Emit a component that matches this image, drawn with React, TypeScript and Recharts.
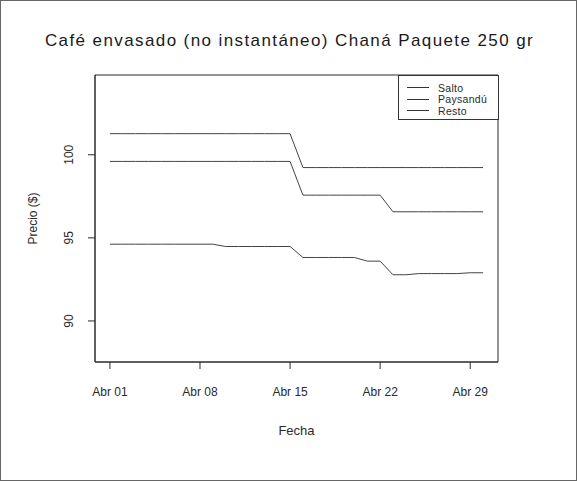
import React from 'react';
import { LineChart, Line, XAxis, YAxis, ReferenceArea } from 'recharts';

const days = [1, 2, 3, 4, 5, 6, 7, 8, 9, 10, 11, 12, 13, 14, 15, 16, 17, 18, 19, 20, 21, 22, 23, 24, 25, 26, 27, 28, 29, 30];
const salto = [101.27, 101.27, 101.27, 101.27, 101.27, 101.27, 101.27, 101.27, 101.27, 101.27, 101.27, 101.27, 101.27, 101.27, 101.27,
  99.23, 99.23, 99.23, 99.23, 99.23, 99.23, 99.23, 99.23, 99.23, 99.23, 99.23, 99.23, 99.23, 99.23, 99.23];
const paysandu = [99.6, 99.6, 99.6, 99.6, 99.6, 99.6, 99.6, 99.6, 99.6, 99.6, 99.6, 99.6, 99.6, 99.6, 99.6,
  97.57, 97.57, 97.57, 97.57, 97.57, 97.57, 97.57, 96.57, 96.57, 96.57, 96.57, 96.57, 96.57, 96.57, 96.57];
const resto = [94.62, 94.62, 94.62, 94.62, 94.62, 94.62, 94.62, 94.62, 94.62, 94.48, 94.48, 94.48, 94.48, 94.48, 94.48,
  93.82, 93.82, 93.82, 93.82, 93.82, 93.6, 93.6, 92.78, 92.78, 92.85, 92.85, 92.85, 92.85, 92.9, 92.9];

const xTicks = [1, 8, 15, 22, 29];
const xTickLabels = ['Abr 01', 'Abr 08', 'Abr 15', 'Abr 22', 'Abr 29'];
const yTicks = [90, 95, 100];
const seriesNames = ['Salto', 'Paysandú', 'Resto'];

const xDomain: [number, number] = [-0.16, 31.16];
const yDomain: [number, number] = [87.53, 104.8];

const font = '"Liberation Sans", Arial, sans-serif';
const ink = '#2a2a2a';

const data = days.map((d, i) => ({ day: d, salto: salto[i], paysandu: paysandu[i], resto: resto[i] }));

const YTick = (props: any) => {
  const { x, y, payload } = props;
  const bx = x - 15;
  return (
    <text x={bx} y={y} transform={`rotate(-90, ${bx}, ${y})`} textAnchor="middle"
      fill={ink} fontSize={12} fontFamily={font}>
      {payload.value}
    </text>
  );
};

// legend drawn as an overlay so it does not take space from the plot
const LegendBox = () => (
  <div style={{ position: 'absolute', left: 397, top: 74, border: '1px solid #333', background: '#fff', width: 101, height: 45, boxSizing: 'border-box', paddingTop: 6 }}>
    {seriesNames.map(n => (
      <div key={n} style={{ display: 'flex', alignItems: 'center', height: 11.5, fontSize: 10.5, fontFamily: font, color: ink, letterSpacing: 0.3 }}>
        <span style={{ display: 'inline-block', width: 22, borderTop: '1px solid #333', marginLeft: 8, marginRight: 9 }} />
        {n}
      </div>
    ))}
  </div>
);

export default function App() {
  return (
    <div style={{ position: 'absolute', left: 0, top: 0, width: 577, height: 481, background: '#fff', border: '1px solid #666', boxSizing: 'border-box' }}>
      <div style={{ position: 'absolute', top: 30, left: 0, width: 577, textAlign: 'center', fontFamily: font, fontSize: 17, letterSpacing: 1.4, color: '#1a1a1a' }}>
        Café envasado (no instantáneo) Chaná Paquete 250 gr
      </div>
      <div style={{ position: 'absolute', top: 0, left: 0 }}>
        <LineChart width={575} height={479} data={data} margin={{ top: 74, right: 78, bottom: 42, left: 34 }}>
          <XAxis dataKey="day" type="number" domain={xDomain} ticks={xTicks} allowDataOverflow
            tickFormatter={(v: number) => xTickLabels[xTicks.indexOf(v)]}
            tickSize={7} tickMargin={18} height={76}
            stroke={ink} tick={{ fill: ink, fontSize: 12, fontFamily: font }}
            label={{ value: 'Fecha', position: 'insideBottom', offset: 0, dy: -3, fill: ink, fontSize: 13, fontFamily: font }} />
          <YAxis type="number" domain={yDomain} ticks={yTicks} allowDataOverflow width={60}
            tickSize={7} tickMargin={0} stroke={ink} tick={<YTick />}
            label={{ value: 'Precio ($)', angle: -90, position: 'insideLeft', offset: 0, dx: -2, fill: ink, fontSize: 12, fontFamily: font, style: { textAnchor: 'middle' } }} />
          <ReferenceArea x1={xDomain[0]} x2={xDomain[1]} y1={yDomain[0]} y2={yDomain[1]} fill="none" stroke={ink} strokeWidth={1} />
          <Line type="linear" dataKey="salto" name="Salto" stroke="#444" strokeWidth={1} dot={false} isAnimationActive={false} />
          <Line type="linear" dataKey="paysandu" name="Paysandú" stroke="#444" strokeWidth={1} dot={false} isAnimationActive={false} />
          <Line type="linear" dataKey="resto" name="Resto" stroke="#444" strokeWidth={1} dot={false} isAnimationActive={false} />
        </LineChart>
      </div>
      <LegendBox />
    </div>
  );
}
